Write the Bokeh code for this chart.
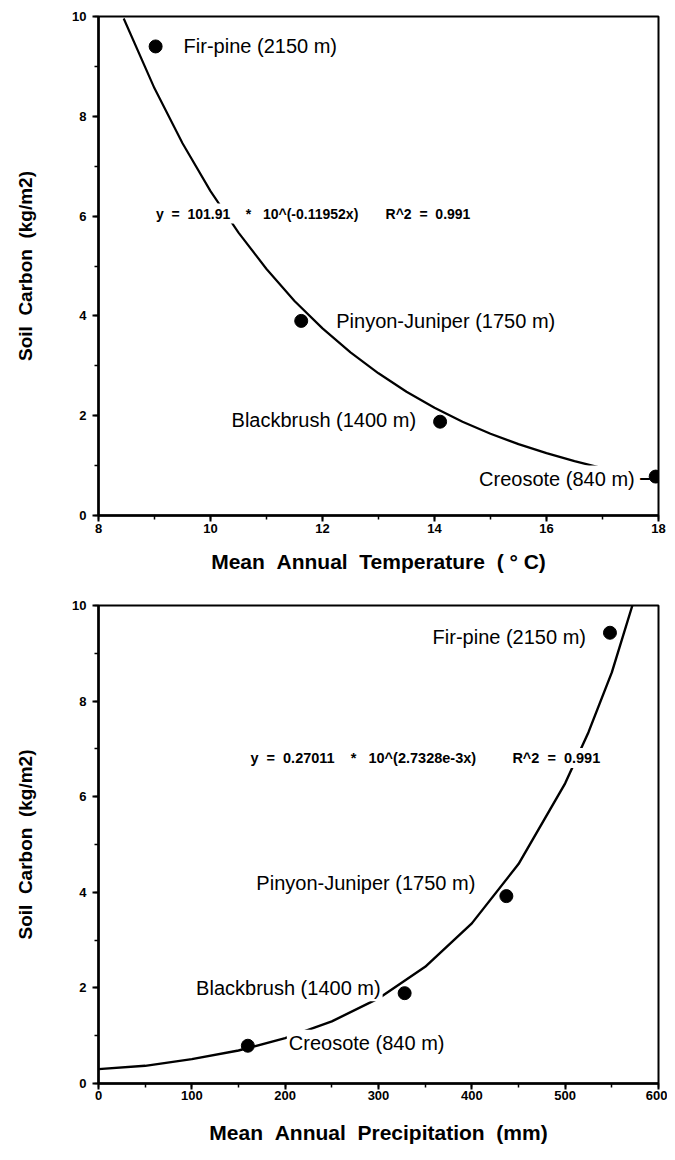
from bokeh.plotting import figure
from bokeh.models import Range1d, Label, SingleIntervalTicker
from bokeh.layouts import column
from bokeh.embed import file_html
from bokeh.resources import INLINE

# ---------------- data ----------------
sites = ["Fir-pine (2150 m)", "Pinyon-Juniper (1750 m)", "Blackbrush (1400 m)", "Creosote (840 m)"]
temp_c = [9.02, 11.62, 14.10, 17.95]
carbon_t = [9.40, 3.90, 1.88, 0.78]
precip_mm = [548, 437, 328, 160]
carbon_p = [9.43, 3.92, 1.89, 0.79]

# fitted curves as drawn
fit_t_x = [8.45, 9.0, 9.5, 10.0, 10.5, 11.0, 11.5, 12.0, 12.5, 13.0, 13.5, 14.0, 14.5, 15.0, 15.5, 16.0, 16.5, 17.1]
fit_t_y = [9.96, 8.56, 7.46, 6.50, 5.67, 4.94, 4.30, 3.75, 3.27, 2.85, 2.48, 2.16, 1.88, 1.64, 1.43, 1.25, 1.09, 0.92]
fit_p_x = [0, 50, 100, 150, 200, 250, 300, 350, 400, 450, 500, 525, 550, 572]
fit_p_y = [0.30, 0.37, 0.51, 0.69, 0.95, 1.30, 1.78, 2.44, 3.35, 4.59, 6.28, 7.35, 8.60, 10.0]

NB = "\u00a0"
eq_t = f"y{NB*2}={NB*2}101.91{NB*4}*{NB*3}10^(-0.11952x){NB*7}R^2{NB*2}={NB*2}0.991"
eq_p = f"y{NB*2}={NB*2}0.27011{NB*4}*{NB*3}10^(2.7328e-3x){NB*9}R^2{NB*2}={NB*2}0.991"

x_title_t = f"Mean{NB}{NB}Annual{NB}{NB}Temperature{NB}{NB}({NB}\u00b0{NB}C)"
x_title_p = f"Mean{NB}{NB}Annual{NB}{NB}Precipitation{NB}{NB}(mm)"
y_title = f"Soil{NB}{NB}Carbon{NB}{NB}(kg/m2)"

FONT = "Liberation Sans"


def base_fig(xr, yr, height, top, bottom, xstep, x_title, tick_standoff, title_standoff):
    p = figure(width=667, height=height, output_backend="svg", toolbar_location=None,
               x_range=Range1d(*xr), y_range=Range1d(*yr),
               min_border_left=98, min_border_right=9, min_border_top=top, min_border_bottom=bottom)
    p.grid.visible = False
    p.outline_line_color = "black"
    p.outline_line_width = 2
    p.background_fill_color = "white"
    p.border_fill_color = "white"
    p.xaxis.ticker = SingleIntervalTicker(interval=xstep, num_minor_ticks=2)
    p.yaxis.ticker = SingleIntervalTicker(interval=2, num_minor_ticks=2)
    for ax in (p.xaxis, p.yaxis):
        ax.axis_line_width = 2.5
        ax.axis_line_color = "black"
        ax.major_tick_line_width = 2
        ax.minor_tick_line_width = 1.5
        ax.major_tick_out = 6
        ax.major_tick_in = 0
        ax.minor_tick_out = 4
        ax.minor_tick_in = 0
        ax.major_label_text_font = FONT
        ax.major_label_text_font_style = "bold"
        ax.major_label_text_font_size = "13px"
        ax.major_label_text_color = "black"
        ax.axis_label_text_font = FONT
        ax.axis_label_text_font_style = "bold"
        ax.axis_label_text_color = "black"
    p.xaxis.axis_label_text_font_size = "21px"
    p.yaxis.axis_label_text_font_size = "19px"
    p.xaxis.axis_label = x_title
    p.xaxis.major_label_standoff = tick_standoff
    p.xaxis.axis_label_standoff = title_standoff
    p.yaxis.axis_label = y_title
    p.yaxis.major_label_standoff = 6
    p.yaxis.axis_label_standoff = 33
    return p


def add_label(p, x, y, text, dx, dy, align, size="20px", style="normal", bg=False):
    lab = Label(x=x, y=y, text=text, x_offset=dx, y_offset=dy, text_align=align,
                text_baseline="middle", text_font=FONT, text_font_size=size,
                text_font_style=style, text_color="black")
    if bg:
        lab.background_fill_color = "white"
        lab.padding = 2
    p.add_layout(lab)


# ---------------- top: temperature ----------------
p1 = base_fig((8, 18), (0, 10), 590, 16, 75, 2, x_title_t, 2, 14)
p1.line(fit_t_x, fit_t_y, line_color="black", line_width=2.2)
p1.scatter(temp_c, carbon_t, size=13, color="black")
t_offsets = [(26, 0, "left"), (33, 0, "left"), (-22, 2, "right"), (-19, -2, "right")]
for xv, yv, name, (dx, dy, al) in zip(temp_c, carbon_t, sites, t_offsets):
    add_label(p1, xv, yv, name, dx, dy, al, bg=True)
# short leader from the Creosote label to its point
add_label(p1, temp_c[3], carbon_t[3], "\u2013", -5, 0, "right", size="20px", style="bold")
add_label(p1, 8.99, 6.05, eq_t, 0, 0, "left", size="14px", style="bold", bg=True)

# ---------------- bottom: precipitation ----------------
p2 = base_fig((0, 600), (0, 10), 561, 15, 68, 100, x_title_p, 1, 18)
p2.line(fit_p_x, fit_p_y, line_color="black", line_width=2.4)
p2.scatter(precip_mm, carbon_p, size=13, color="black")
p_offsets = [(-22, -4, "right"), (-29, 13, "right"), (-22, 5, "right"), (39, 3, "left")]
for xv, yv, name, (dx, dy, al) in zip(precip_mm, carbon_p, sites, p_offsets):
    add_label(p2, xv, yv, name, dx, dy, al, bg=True)
add_label(p2, 160.6, 6.81, eq_p, 0, 0, "left", size="14.5px", style="bold", bg=True)

layout = column(p1, p2, spacing=0)
open("out.html", "w").write(file_html(layout, INLINE))
